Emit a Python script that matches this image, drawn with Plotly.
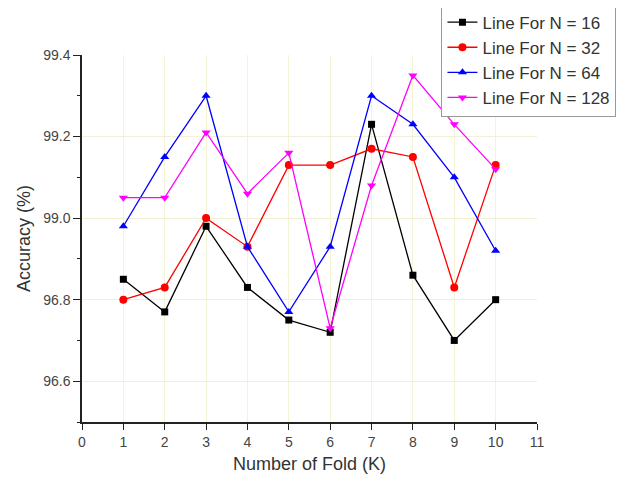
import plotly.graph_objects as go

folds = [1, 2, 3, 4, 5, 6, 7, 8, 9, 10]
acc_n16 = [98.85, 98.77, 98.98, 98.83, 98.75, 98.72, 99.23, 98.86, 98.70, 98.80]
acc_n32 = [98.80, 98.83, 99.00, 98.93, 99.13, 99.13, 99.17, 99.15, 98.83, 99.13]
acc_n64 = [98.98, 99.15, 99.30, 98.93, 98.77, 98.93, 99.30, 99.23, 99.10, 98.92]
acc_n128 = [99.05, 99.05, 99.21, 99.06, 99.16, 98.73, 99.08, 99.35, 99.23, 99.12]

series_names = ["Line For N = 16", "Line For N = 32", "Line For N = 64", "Line For N = 128"]
y_tick_vals = [98.6, 98.8, 99.0, 99.2, 99.4]
y_tick_text = ["96.6", "96.8", "99.0", "99.2", "99.4"]
x_tick_vals = list(range(0, 12))

styles = [
    ("black", "square", 7),
    ("red", "circle", 8),
    ("blue", "triangle-up", 8),
    ("magenta", "triangle-down", 8),
]

fig = go.Figure()
for name, vals, (col, sym, sz) in zip(series_names, [acc_n16, acc_n32, acc_n64, acc_n128], styles):
    fig.add_trace(go.Scatter(
        x=folds, y=vals, mode="lines+markers", name=name,
        line=dict(color=col, width=1.3),
        marker=dict(color=col, symbol=sym, size=sz),
    ))

font_family = "Liberation Sans, Arial, sans-serif"
fig.update_layout(
    width=638, height=483,
    margin=dict(l=74, r=109, t=47, b=69, autoexpand=False),
    paper_bgcolor="white", plot_bgcolor="white",
    font=dict(family=font_family, color="#333333", size=14),
    showlegend=True,
    legend=dict(
        x=0.79, y=1.14, xanchor="left", yanchor="top",
        bordercolor="#999999", borderwidth=1, bgcolor="white",
        font=dict(size=17, color="#333333"),
        tracegroupgap=0,
    ),
    xaxis=dict(
        range=[0, 11], tickvals=x_tick_vals, ticktext=[str(v) for v in x_tick_vals],
        showline=True, linecolor="#222222", linewidth=1.5,
        ticks="outside", ticklen=6, tickcolor="#222222",
        showgrid=True, gridcolor="#f4f4d4", gridwidth=1,
        zeroline=False,
        title=dict(text="Number of Fold (K)", font=dict(size=18, color="#333333"), standoff=9),
        tickfont=dict(size=14, color="#444444"),
    ),
    yaxis=dict(
        range=[98.5, 99.4], tickvals=y_tick_vals, ticktext=y_tick_text,
        showline=True, linecolor="#222222", linewidth=1.5,
        ticks="outside", ticklen=7, tickcolor="#222222",
        minor=dict(ticks="outside", ticklen=3, dtick=0.1, tick0=98.5, tickcolor="#222222", showgrid=False),
        showgrid=True, gridcolor="#f4f0d8", gridwidth=1,
        zeroline=False,
        title=dict(text="Accuracy (%)", font=dict(size=18, color="#333333"), standoff=8),
        tickfont=dict(size=14, color="#444444"),
    ),
)

fig.write_html("out.html")
